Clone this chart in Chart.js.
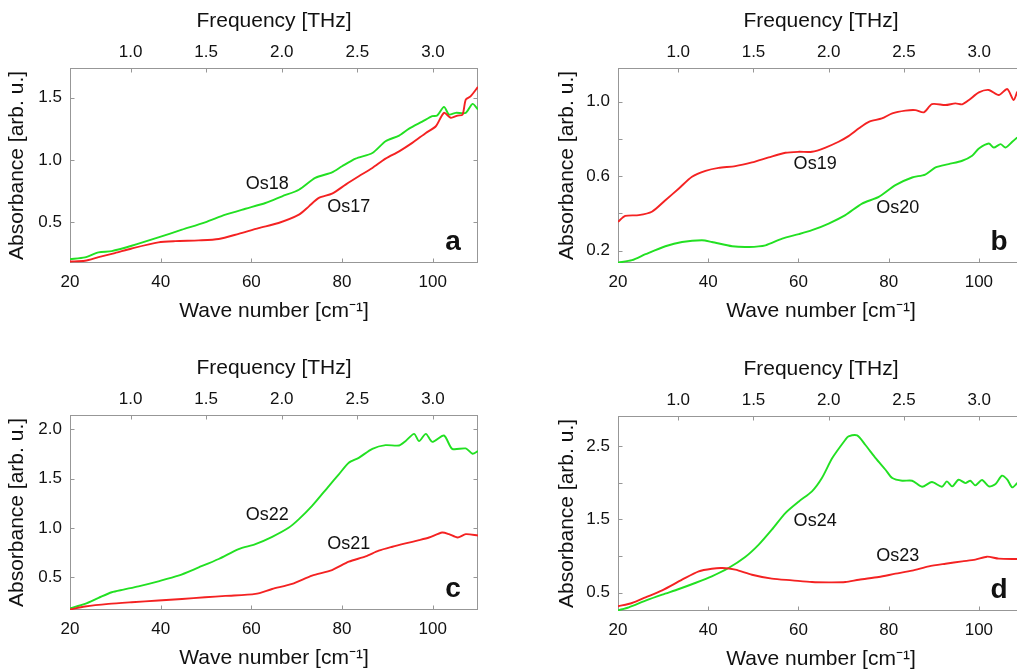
<!DOCTYPE html>
<html><head><meta charset="utf-8">
<script src="https://cdn.jsdelivr.net/npm/chart.js@4.4.1/dist/chart.umd.min.js"></script>
<style>
html,body{margin:0;padding:0;background:#fff;}
body{width:1017px;height:670px;overflow:hidden;position:relative;}
canvas{position:absolute;}
</style></head><body>
<canvas id="ca" width="508" height="335" style="left:0px;top:0px"></canvas>
<canvas id="cb" width="508" height="335" style="left:548px;top:0px"></canvas>
<canvas id="cc" width="508" height="335" style="left:0px;top:347px"></canvas>
<canvas id="cd" width="508" height="335" style="left:548px;top:348px"></canvas>
<script>
// ---- axis ticks ----
const waveTicks = [20, 40, 60, 80, 100];
const waveLabels = ['20', '40', '60', '80', '100'];
const freqTicks = [1.0, 1.5, 2.0, 2.5, 3.0];
const freqLabels = ['1.0', '1.5', '2.0', '2.5', '3.0'];
const yTicksA = [0.5, 1.0, 1.5];            const yLabelsA = ['0.5', '1.0', '1.5'];
const yTicksB = [0.2, 0.4, 0.6, 0.8, 1.0];  const yLabelsB = ['0.2', '', '0.6', '', '1.0'];
const yTicksC = [0.5, 1.0, 1.5, 2.0];       const yLabelsC = ['0.5', '1.0', '1.5', '2.0'];
const yTicksD = [0.5, 1.0, 1.5, 2.0, 2.5];  const yLabelsD = ['0.5', '', '1.5', '', '2.5'];

// ---- panel a ----
const waveOs18 = [20,23.3,26.3,29.2,33.6,39.5,44.7,49.8,54.3,58.7,63.1,66.8,70.5,74.1,77.8,80.0,83.0,86.7,89.6,92.6,94.8,97.7,99.9,101.0,102.5,103.6,105.1,107.3,108.8,110];
const absOs18  = [0.201,0.215,0.255,0.266,0.309,0.376,0.438,0.497,0.559,0.607,0.653,0.707,0.760,0.855,0.900,0.949,1.010,1.056,1.150,1.196,1.252,1.308,1.352,1.357,1.427,1.365,1.379,1.379,1.451,1.406];
const waveOs17 = [20,23.3,26.3,29.9,33.6,39.5,43.2,48.4,52.8,57.2,61.6,66.0,70.5,72.7,74.9,77.8,80.8,83.7,86.7,89.6,92.6,95.5,98.5,100.7,102.5,104.0,105.5,106.6,107.3,108.4,110];
const absOs17  = [0.182,0.188,0.217,0.250,0.287,0.336,0.346,0.352,0.363,0.405,0.451,0.492,0.559,0.626,0.694,0.728,0.801,0.868,0.935,1.010,1.069,1.137,1.217,1.271,1.379,1.339,1.357,1.365,1.486,1.513,1.588];

// ---- panel b ----
const waveOs19 = [20,21.6,24.6,27.5,30.5,33.5,36.4,39.4,42.3,46.0,49.7,53.4,57.1,60.1,63.0,66.0,68.9,71.1,73.4,75.6,78.5,80.8,83.7,85.9,87.8,89.6,92.6,94.8,96.3,97.8,100.0,102.2,104.4,106.3,107.7,108.5];
const absOs19  = [0.355,0.387,0.391,0.409,0.471,0.534,0.597,0.629,0.645,0.654,0.674,0.701,0.726,0.731,0.731,0.754,0.785,0.815,0.857,0.892,0.910,0.937,0.952,0.955,0.943,0.987,0.982,0.991,0.986,1.009,1.050,1.063,1.036,1.068,1.009,1.054];
const waveOs20 = [20,23.1,26.1,30.5,34.2,38.6,40.8,45.3,49.0,52.7,56.4,60.1,63.0,66.7,70.4,74.1,77.8,81.5,85.2,88.1,90.4,93.3,96.3,98.5,100.0,102.2,103.3,104.8,105.9,107.4,108.5];
const absOs20  = [0.136,0.149,0.181,0.224,0.247,0.256,0.247,0.224,0.220,0.229,0.265,0.289,0.310,0.346,0.391,0.453,0.489,0.552,0.593,0.609,0.647,0.665,0.683,0.710,0.749,0.776,0.754,0.772,0.754,0.785,0.808];

// ---- panel c ----
const waveOs22 = [20,23.3,26.3,29.2,31.8,35.1,39.5,43.9,48.4,52.8,57.2,60.9,64.6,68.3,70.5,73.4,77.1,79.3,81.5,83.7,86.7,89.6,92.6,94.0,95.9,97.0,98.5,99.9,102.5,104.3,107.3,108.8,110];
const absOs22  = [0.185,0.229,0.290,0.347,0.374,0.407,0.458,0.515,0.599,0.684,0.785,0.835,0.909,1.003,1.088,1.222,1.424,1.542,1.660,1.710,1.801,1.838,1.835,1.879,1.953,1.879,1.953,1.872,1.936,1.801,1.805,1.751,1.778];
const waveOs21 = [20,23.3,28.5,33.6,39.5,44.7,49.8,54.3,60.9,64.6,69.0,73.4,77.8,81.5,85.2,88.1,91.1,94.0,97.0,99.2,102.1,103.6,105.5,107.3,110];
const absOs21  = [0.172,0.202,0.229,0.246,0.263,0.279,0.296,0.310,0.330,0.380,0.431,0.515,0.572,0.657,0.710,0.768,0.808,0.842,0.875,0.902,0.953,0.936,0.902,0.936,0.923];

// ---- panel d ----
const waveOs24 = [20,22.4,26.1,29.8,33.5,37.1,40.8,44.5,48.2,51.2,54.1,57.1,60.1,63.0,65.2,67.5,70.4,71.1,73.0,74.8,77.1,79.3,80.8,83.0,85.2,87.4,89.6,91.8,92.9,94.1,95.5,97.0,98.1,99.2,100.7,102.2,103.7,105.1,106.3,107.4,108.5];
const absOs24  = [0.259,0.300,0.391,0.473,0.550,0.632,0.723,0.836,0.986,1.155,1.359,1.586,1.745,1.882,2.064,2.336,2.586,2.632,2.645,2.518,2.336,2.177,2.064,2.027,2.027,1.945,2.009,1.945,2.018,1.950,2.041,1.995,2.027,1.964,2.036,1.950,1.982,2.095,2.041,1.936,1.995];
const waveOs23 = [20,23.1,26.1,29.8,34.2,37.9,40.8,43.1,46.0,49.7,54.1,58.6,63.0,66.7,70.4,73.4,77.8,81.5,85.2,88.9,92.6,96.3,99.2,101.8,104.4,108.5];
const absOs23  = [0.314,0.359,0.436,0.532,0.677,0.791,0.827,0.836,0.814,0.745,0.691,0.668,0.645,0.641,0.645,0.677,0.714,0.759,0.800,0.859,0.895,0.927,0.950,0.991,0.964,0.959];

// ---- styling ----
const THZ_TO_CM = 33.356;
const FONT = '"Liberation Sans", Arial, Helvetica, sans-serif';
const TXT = '#111111';
const FRAME = '#979797';
const RED = '#f42222';
const GREEN = '#22e022';
const TICK = 4;
Chart.defaults.font.family = FONT;

const panelPlugin = {
  id: 'panel',
  beforeDatasetsDraw(chart) {
    const {ctx, chartArea: a, scales} = chart;
    const L = Math.round(a.left) + 0.5, R = Math.round(a.right) - 0.5;
    const T = Math.round(a.top) + 0.5, B = Math.round(a.bottom) - 0.5;
    ctx.save();
    ctx.strokeStyle = FRAME; ctx.lineWidth = 1;
    ctx.beginPath();
    scales.x.ticks.forEach(t => { const p = Math.round(scales.x.getPixelForValue(t.value)) + 0.5; ctx.moveTo(p, B); ctx.lineTo(p, B - TICK); });
    scales.x2.ticks.forEach(t => { const p = Math.round(scales.x2.getPixelForValue(t.value)) + 0.5; ctx.moveTo(p, T); ctx.lineTo(p, T + TICK); });
    scales.y.ticks.forEach(t => { const p = Math.round(scales.y.getPixelForValue(t.value)) + 0.5; ctx.moveTo(L, p); ctx.lineTo(L + TICK, p); ctx.moveTo(R, p); ctx.lineTo(R - TICK, p); });
    ctx.stroke();
    ctx.strokeRect(L, T, R - L, B - T);
    ctx.restore();
  },
  afterDatasetsDraw(chart, args, opts) {
    const {ctx, chartArea: a, scales} = chart;
    ctx.save();
    ctx.fillStyle = TXT;
    ctx.textAlign = 'center'; ctx.textBaseline = 'middle';
    ctx.font = '18px ' + FONT;
    (opts.labels || []).forEach(l => {
      ctx.fillText(l.text, scales.x.getPixelForValue(l.x), scales.y.getPixelForValue(l.y));
    });
    ctx.font = 'bold 28px ' + FONT;
    ctx.fillText(opts.letter, a.right - 25, a.bottom - 21);
    ctx.restore();
  }
};

function makePanel(id, series, yMin, yMax, yTicks, yLabels, labels, letter, yTitlePad, rightPad) {
  new Chart(document.getElementById(id), {
    type: 'line',
    data: {
      datasets: series.map(s => ({
        data: s.x.map((v, i) => ({x: v, y: s.y[i]})),
        borderColor: s.color, borderWidth: 1.9, pointRadius: 0, tension: 0.25, fill: false
      }))
    },
    options: {
      responsive: false, animation: false,
      layout: {padding: {left: 0, top: 0, right: rightPad, bottom: 0}},
      plugins: {legend: {display: false}, tooltip: {enabled: false}, panel: {labels: labels, letter: letter}},
      scales: {
        x: {
          type: 'linear', position: 'bottom', min: 20, max: 110,
          grid: {display: false, drawTicks: false, tickLength: 0}, border: {display: false},
          afterBuildTicks: s => { s.ticks = waveTicks.map(v => ({value: v})); },
          ticks: {padding: 9, autoSkip: false, maxRotation: 0, color: TXT, font: {size: 17}, callback: (v, i) => waveLabels[i]},
          title: {display: true, text: 'Wave number [cm\u207B\u00B9]', color: TXT, font: {size: 21}, padding: {top: 0, bottom: 11}},
          afterFit: s => { s.height = 72; }
        },
        x2: {
          type: 'linear', position: 'top', min: 20, max: 110,
          grid: {display: false, drawTicks: false, tickLength: 0}, border: {display: false},
          afterBuildTicks: s => { s.ticks = freqTicks.map(v => ({value: v * THZ_TO_CM})); },
          ticks: {padding: 5.5, autoSkip: false, maxRotation: 0, color: TXT, font: {size: 17}, callback: (v, i) => freqLabels[i]},
          title: {display: true, text: 'Frequency [THz]', color: TXT, font: {size: 21}, padding: {top: 9, bottom: 0}},
          afterFit: s => { s.height = 68; }
        },
        y: {
          type: 'linear', position: 'left', min: yMin, max: yMax,
          grid: {display: false, drawTicks: false, tickLength: 0}, border: {display: false},
          afterBuildTicks: s => { s.ticks = yTicks.map(v => ({value: v})); },
          ticks: {padding: 8, autoSkip: false, color: TXT, font: {size: 17}, callback: (v, i) => yLabels[i]},
          title: {display: true, text: 'Absorbance [arb. u.]', color: TXT, font: {size: 21}, padding: {top: yTitlePad, bottom: 0}},
          afterFit: s => { s.width = 70; }
        }
      }
    },
    plugins: [panelPlugin]
  });
}

makePanel('ca', [
  {x: waveOs17, y: absOs17, color: RED},
  {x: waveOs18, y: absOs18, color: GREEN}
], 0.17, 1.74, yTicksA, yLabelsA,
  [{text: 'Os18', x: 63.5, y: 0.809}, {text: 'Os17', x: 81.5, y: 0.618}], 'a', 5, 30);

makePanel('cb', [
  {x: waveOs19, y: absOs19, color: RED},
  {x: waveOs20, y: absOs20, color: GREEN}
], 0.134, 1.181, yTicksB, yLabelsB,
  [{text: 'Os19', x: 63.7, y: 0.665}, {text: 'Os20', x: 82.0, y: 0.427}], 'b', 6.5, 32);

makePanel('cc', [
  {x: waveOs21, y: absOs21, color: RED},
  {x: waveOs22, y: absOs22, color: GREEN}
], 0.167, 2.144, yTicksC, yLabelsC,
  [{text: 'Os22', x: 63.5, y: 1.131}, {text: 'Os21', x: 81.5, y: 0.834}], 'c', 5, 30);

makePanel('cd', [
  {x: waveOs23, y: absOs23, color: RED},
  {x: waveOs24, y: absOs24, color: GREEN}
], 0.25, 2.91, yTicksD, yLabelsD,
  [{text: 'Os24', x: 63.7, y: 1.474}, {text: 'Os23', x: 82.0, y: 0.997}], 'd', 6.5, 32);
</script>
</body></html>
